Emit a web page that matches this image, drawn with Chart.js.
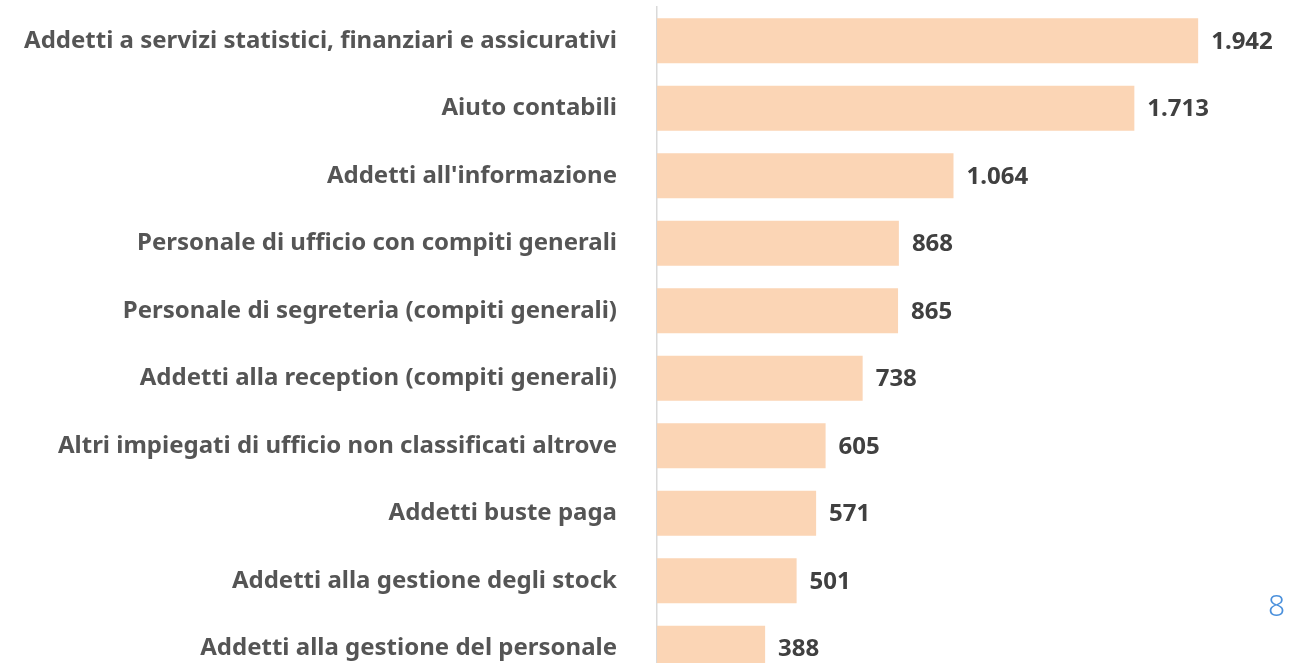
<!DOCTYPE html>
<html>
<head>
<meta charset="utf-8">
<script src="https://cdn.jsdelivr.net/npm/chart.js@4/dist/chart.umd.min.js"></script>
<style>
  html, body { margin: 0; padding: 0; background: #fff; overflow: hidden; }
  #wrap { position: relative; width: 1312px; height: 682px; }
  #chart { display: block; }
  #pageNum {
    position: absolute; left: 1268px; top: 584px;
    font-family: "Noto Sans", sans-serif; font-size: 30px; font-weight: 300;
    color: #4a90dc;
  }
</style>
</head>
<body>
<div id="wrap">
  <canvas id="chart" width="1312" height="682"></canvas>
  <div id="pageNum">8</div>
</div>
<script>
// categories (top to bottom) and values
var categories = [
  "Addetti a servizi statistici, finanziari e assicurativi",
  "Aiuto contabili",
  "Addetti all'informazione",
  "Personale di ufficio con compiti generali",
  "Personale di segreteria (compiti generali)",
  "Addetti alla reception (compiti generali)",
  "Altri impiegati di ufficio non classificati altrove",
  "Addetti buste paga",
  "Addetti alla gestione degli stock",
  "Addetti alla gestione del personale"
];
var values = [1942, 1713, 1064, 868, 865, 738, 605, 571, 501, 388];

var FONT = '"Noto Sans", "DejaVu Sans", sans-serif';

// Italian thousands separator
function fmt(v) {
  return String(v).replace(/\B(?=(\d{3})+(?!\d))/g, '.');
}

var valueLabels = {
  id: 'valueLabels',
  afterDatasetsDraw: function (chart) {
    var ctx = chart.ctx;
    var meta = chart.getDatasetMeta(0);
    ctx.save();
    ctx.font = 'bold 24px ' + FONT;
    ctx.fillStyle = '#404040';
    ctx.textAlign = 'left';
    ctx.textBaseline = 'middle';
    meta.data.forEach(function (bar, i) {
      ctx.fillText(fmt(values[i]), bar.x + 13, bar.y + 1);
    });
    ctx.restore();
  }
};

new Chart(document.getElementById('chart'), {
  type: 'bar',
  data: {
    labels: categories,
    datasets: [{
      data: values,
      backgroundColor: '#fbd5b5',
      borderWidth: 0,
      barPercentage: 1,
      categoryPercentage: 0.67
    }]
  },
  options: {
    indexAxis: 'y',
    responsive: false,
    animation: false,
    layout: { padding: { top: 7, right: 28, bottom: 0, left: 0 } },
    plugins: {
      legend: { display: false },
      tooltip: { enabled: false }
    },
    scales: {
      x: {
        display: false,
        min: 0,
        max: 2250
      },
      y: {
        afterFit: function (scale) {
          scale.width = 657;
          scale.paddingTop = 0;
          scale.paddingBottom = 0;
        },
        grid: { display: false, drawTicks: false },
        border: { display: true, color: '#d9d9d9', width: 1.5 },
        ticks: {
          padding: 40,
          color: '#555555',
          font: { family: FONT, size: 24, weight: 'bold' }
        }
      }
    }
  },
  plugins: [valueLabels]
});
</script>
</body>
</html>
